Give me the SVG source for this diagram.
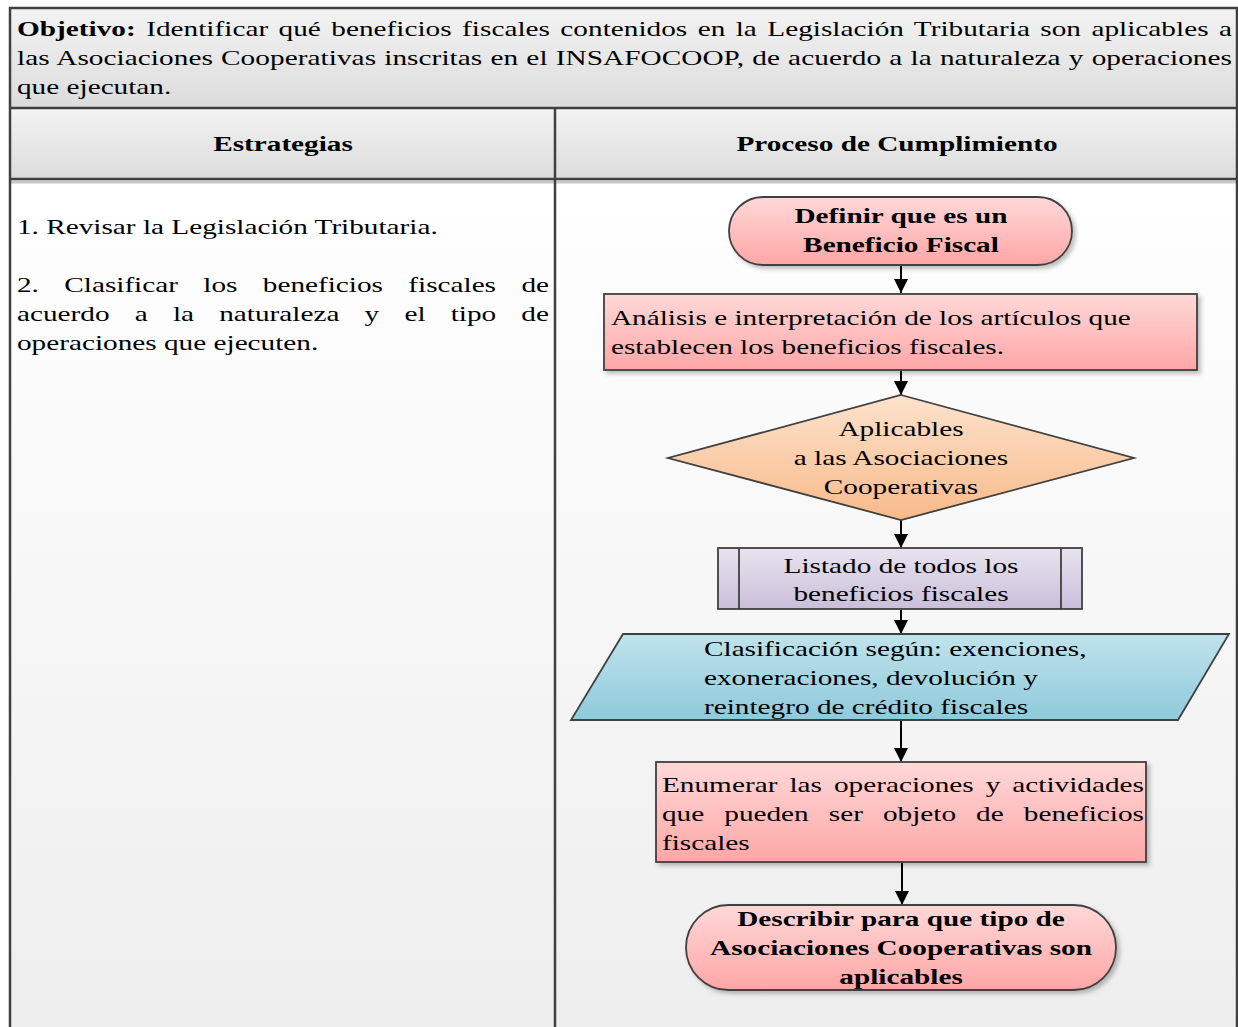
<svg xmlns="http://www.w3.org/2000/svg" width="1238" height="1027" viewBox="0 0 1238 1027">
<style>
.t{font-family:"Liberation Serif","Times New Roman",serif;font-size:22px;fill:#000}
.b{font-weight:bold}
.grid{stroke:#404040;stroke-width:2.5;fill:none}
.shape{stroke:#404040;stroke-width:1.8}
.conn{stroke:#000;stroke-width:2;fill:none}
</style>
<defs>
<linearGradient id="gGray" x1="0" y1="0" x2="0" y2="1"><stop offset="0" stop-color="#f3f3f3"/><stop offset="1" stop-color="#dcdcdc"/></linearGradient>
<linearGradient id="gBody" x1="0" y1="0" x2="0" y2="1"><stop offset="0" stop-color="#ffffff"/><stop offset="1" stop-color="#eeeeee"/></linearGradient>
<linearGradient id="gPink" x1="0" y1="0" x2="0" y2="1"><stop offset="0" stop-color="#ffd8d8"/><stop offset="1" stop-color="#ffa6a6"/></linearGradient>
<linearGradient id="gOrange" x1="0" y1="0" x2="0" y2="1"><stop offset="0" stop-color="#fce2cc"/><stop offset="1" stop-color="#f8ba8a"/></linearGradient>
<linearGradient id="gLav" x1="0" y1="0" x2="0" y2="1"><stop offset="0" stop-color="#e8e3ef"/><stop offset="1" stop-color="#cabfda"/></linearGradient>
<linearGradient id="gBlue" x1="0" y1="0" x2="0" y2="1"><stop offset="0" stop-color="#c0e3eb"/><stop offset="1" stop-color="#8ecadb"/></linearGradient>
<filter id="sh" x="-10%" y="-10%" width="125%" height="130%"><feDropShadow dx="3" dy="3" stdDeviation="2" flood-color="#000" flood-opacity="0.25"/></filter>
<marker id="ah" viewBox="0 0 10 10" refX="10" refY="5" markerWidth="14" markerHeight="14" markerUnits="userSpaceOnUse" orient="auto"><path d="M0,0 L10,5 L0,10 z" fill="#000"/></marker>
</defs>

<g id="table">
<rect x="10" y="8" width="1227" height="100" fill="url(#gGray)"/>
<rect x="10" y="108" width="1227" height="71" fill="url(#gGray)"/>
<rect x="10" y="179" width="545" height="848" fill="url(#gBody)"/>
<rect x="555" y="179" width="682" height="848" fill="url(#gBody)"/>
<line x1="10" y1="182" x2="1237" y2="182" stroke="#c8c8c8" stroke-width="3"/>
<path class="grid" d="M10,1027 V8 H1237 V1027 M10,108 H1237 M10,179 H1237 M555,108 V1027"/>
</g>

<g id="objetivo">
<text class="t" transform="translate(17,36) scale(1.33,1)" word-spacing="2.3" textLength="913.5" lengthAdjust="spacing"><tspan class="b">Objetivo:</tspan> Identificar qué beneficios fiscales contenidos en la Legislación Tributaria son aplicables a</text>
<text class="t" transform="translate(17,65) scale(1.33,1)" word-spacing="0.6" textLength="913.5" lengthAdjust="spacing">las Asociaciones Cooperativas inscritas en el INSAFOCOOP, de acuerdo a la naturaleza y operaciones</text>
<text class="t" transform="translate(17,94) scale(1.33,1)">que ejecutan.</text>
</g>

<g id="headers">
<text class="t b" text-anchor="middle" transform="translate(283,151) scale(1.33,1)">Estrategias</text>
<text class="t b" text-anchor="middle" transform="translate(897,151) scale(1.33,1)">Proceso de Cumplimiento</text>
</g>

<g id="estrategias">
<text class="t" transform="translate(17,234) scale(1.33,1)">1. Revisar la Legislación Tributaria.</text>
<text class="t" transform="translate(17,292) scale(1.33,1)" word-spacing="13.6" textLength="400" lengthAdjust="spacing">2. Clasificar los beneficios fiscales de</text>
<text class="t" transform="translate(17,321) scale(1.33,1)" word-spacing="13.4" textLength="400" lengthAdjust="spacing">acuerdo a la naturaleza y el tipo de</text>
<text class="t" transform="translate(17,350) scale(1.33,1)">operaciones que ejecuten.</text>
</g>

<g id="connectors">
<line class="conn" x1="901" y1="265" x2="901" y2="293" marker-end="url(#ah)"/>
<line class="conn" x1="901" y1="370" x2="901" y2="395" marker-end="url(#ah)"/>
<line class="conn" x1="901" y1="520" x2="901" y2="548" marker-end="url(#ah)"/>
<line class="conn" x1="901" y1="609" x2="901" y2="634" marker-end="url(#ah)"/>
<line class="conn" x1="901" y1="720" x2="901" y2="762" marker-end="url(#ah)"/>
<line class="conn" x1="902" y1="862" x2="902" y2="905" marker-end="url(#ah)"/>
</g>

<g id="n1">
<rect class="shape" x="729" y="197" width="343" height="68" rx="34" ry="34" fill="url(#gPink)" filter="url(#sh)"/>
<text class="t b" text-anchor="middle" transform="translate(901,223) scale(1.33,1)">Definir que es un</text>
<text class="t b" text-anchor="middle" transform="translate(901,252) scale(1.33,1)">Beneficio Fiscal</text>
</g>

<g id="n2">
<rect class="shape" x="604" y="294" width="593" height="76" fill="url(#gPink)" filter="url(#sh)"/>
<text class="t" transform="translate(611,325) scale(1.33,1)">Análisis e interpretación de los artículos que</text>
<text class="t" transform="translate(611,354) scale(1.33,1)">establecen los beneficios fiscales.</text>
</g>

<g id="n3">
<polygon class="shape" points="901,395 1134,458 901,520 668,458" fill="url(#gOrange)"/>
<text class="t" text-anchor="middle" transform="translate(901,436) scale(1.33,1)">Aplicables</text>
<text class="t" text-anchor="middle" transform="translate(901,465) scale(1.33,1)">a las Asociaciones</text>
<text class="t" text-anchor="middle" transform="translate(901,494) scale(1.33,1)">Cooperativas</text>
</g>

<g id="n4">
<rect class="shape" x="718" y="548" width="364" height="61" fill="url(#gLav)"/>
<line class="shape" x1="739" y1="548" x2="739" y2="609"/>
<line class="shape" x1="1061" y1="548" x2="1061" y2="609"/>
<text class="t" text-anchor="middle" transform="translate(901,573) scale(1.33,1)">Listado de todos los</text>
<text class="t" text-anchor="middle" transform="translate(901,601) scale(1.33,1)">beneficios fiscales</text>
</g>

<g id="n5">
<polygon class="shape" points="623,634 1229,634 1178,720 571,720" fill="url(#gBlue)"/>
<text class="t" transform="translate(704,656) scale(1.33,1)">Clasificación según: exenciones,</text>
<text class="t" transform="translate(704,685) scale(1.33,1)">exoneraciones, devolución y</text>
<text class="t" transform="translate(704,714) scale(1.33,1)">reintegro de crédito fiscales</text>
</g>

<g id="n6">
<rect class="shape" x="656" y="762" width="490" height="100" fill="url(#gPink)" filter="url(#sh)"/>
<text class="t" transform="translate(662,792) scale(1.33,1)" word-spacing="3.5" textLength="362.4" lengthAdjust="spacing">Enumerar las operaciones y actividades</text>
<text class="t" transform="translate(662,821) scale(1.33,1)" word-spacing="9.6" textLength="362.4" lengthAdjust="spacing">que pueden ser objeto de beneficios</text>
<text class="t" transform="translate(662,850) scale(1.33,1)">fiscales</text>
</g>

<g id="n7">
<rect class="shape" x="686" y="905" width="430" height="85" rx="42.5" ry="42.5" fill="url(#gPink)" filter="url(#sh)"/>
<text class="t b" text-anchor="middle" transform="translate(901,926) scale(1.33,1)">Describir para que tipo de</text>
<text class="t b" text-anchor="middle" transform="translate(901,955) scale(1.33,1)">Asociaciones Cooperativas son</text>
<text class="t b" text-anchor="middle" transform="translate(901,984) scale(1.33,1)">aplicables</text>
</g>
</svg>
